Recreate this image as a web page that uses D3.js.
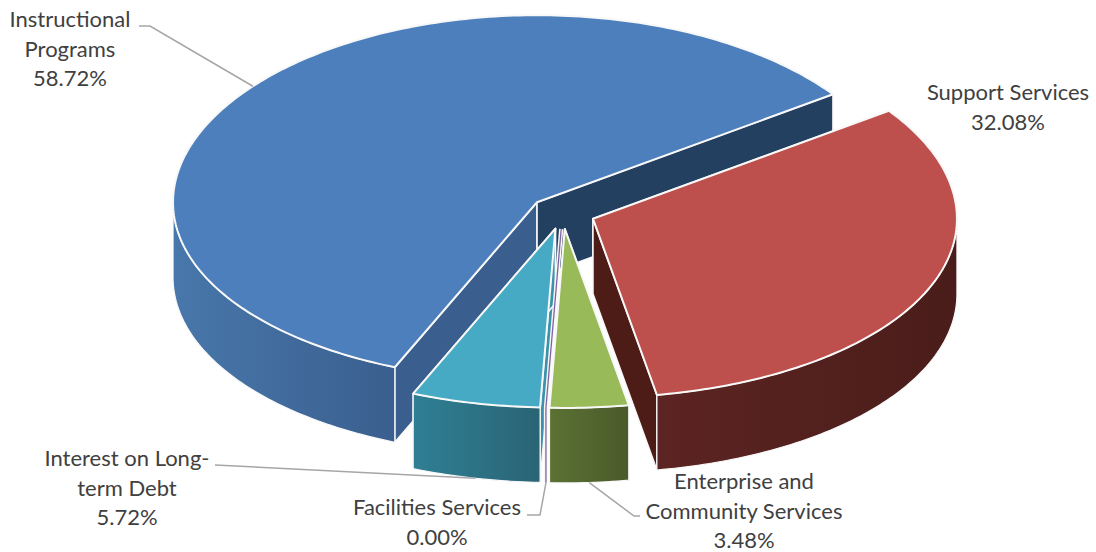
<!DOCTYPE html>
<html>
<head>
<meta charset="utf-8">
<title>Expenditures by function</title>
<script src="https://cdnjs.cloudflare.com/ajax/libs/d3/7.8.5/d3.min.js"></script>
<style>
  html, body { margin: 0; padding: 0; background: #fff; }
  svg { display: block; }
  text { font-family: Lato, "Open Sans", sans-serif; font-size: 22px; fill: #404040; }
</style>
</head>
<body>
<svg id="chart" width="1096" height="552"></svg>
<script>
// Slice data, in drawing order clockwise around the pie
const categories = ["Instructional Programs", "Support Services", "Enterprise and Community Services", "Facilities Services", "Interest on Long-term Debt"];
const shares = [58.72, 32.08, 3.48, 0.00, 5.72];

// Colours per slice
const topColors = ["#4c7fbc", "#bd4f4c", "#98ba58", "#8064a2", "#46aac5"];
const rimFrom = ["#4877ab", "#5c2422", "#5b7233", "#6a5488", "#2f7f94"];
const rimTo = ["#3a5f8e", "#4a1d1a", "#4a5a2b", "#5a4674", "#2a6475"];
const startFace = ["#3a5f8e", "#4d1c17", "#4a5a2b", "#8064a2", "#3a93aa"];
const endFace = ["#244061", "#4d1c17", "#4a5a2b", "#8064a2", "#3a93aa"];

// Label text lines and their placement
const labelLines = [
  ["Instructional", "Programs", "58.72%"],
  ["Support Services", "32.08%"],
  ["Enterprise and", "Community Services", "3.48%"],
  ["Facilities Services", "0.00%"],
  ["Interest on Long-", "term Debt", "5.72%"]
];
const labelCentres = [[70, 27], [1008, 100], [744, 489], [437, 515], [127, 466]];
const leaderElbows = [
  [[139, 26], [150, 26]],
  [],
  [[640, 516], [634, 516]],
  [[527, 515], [540, 515]],
  [[215, 465]]
];
const lineStep = 29.5;

// Pie projection settings
const centreX = 562.6, centreY = 212.5;
const radiusX = 364, radiusY = 183, backBulge = 4;
const depth = 75, explode = 0.09;
const firstAngle = 203 * Math.PI / 180;

const svg = d3.select("#chart");
const defs = svg.append("defs");

const slices = d3.pie().sort(null)
  .startAngle(firstAngle)
  .endAngle(firstAngle + 2 * Math.PI)(shares);

const xScale = d3.scaleLinear().domain([-1, 1]).range([-radiusX, radiusX]);
const yScale = d3.scaleLinear().domain([-1, 1]).range([-radiusY, radiusY]);

// Apex of a slice, pushed out along its middle angle
function apexOf(d) {
  const mid = (d.startAngle + d.endAngle) / 2;
  return [centreX + xScale(Math.sin(mid)) * explode,
          centreY + yScale(-Math.cos(mid)) * explode];
}
// Point on the rim of a slice, seen from slightly above
function rimPoint(apex, angle, drop = 0) {
  const c = Math.cos(angle);
  return [apex[0] + xScale(Math.sin(angle)),
          apex[1] + yScale(-c) - backBulge * c * c + drop];
}
function arcPoints(apex, from, to, drop = 0) {
  const n = Math.max(2, Math.ceil(Math.abs(to - from) * 60));
  return d3.range(n + 1).map(i => rimPoint(apex, from + (to - from) * i / n, drop));
}
const path = d3.line();
const closed = pts => path(pts) + "Z";

// Front-facing part of a slice's outer wall
function frontSpan(d) {
  const deg = Math.PI / 180;
  for (const [lo, hi] of [[90 * deg, 270 * deg], [450 * deg, 630 * deg]]) {
    const a = Math.max(lo, d.startAngle), b = Math.min(hi, d.endAngle);
    if (b > a) return [a, b];
  }
  return null;
}

const stroke = "#f8f8f8";
const order = [0, 1, 4, 3, 2];

order.forEach(i => {
  const d = slices[i];
  const apex = apexOf(d);
  const g = svg.append("g").attr("class", "slice");

  if (d.endAngle === d.startAngle) {
    // A zero share is only a hairline seam down the pie
    const seam = [apex, rimPoint(apex, d.startAngle), rimPoint(apex, d.startAngle, depth)];
    g.append("path").attr("d", path(seam)).attr("fill", "none")
      .attr("stroke", stroke).attr("stroke-width", 4.2);
    g.append("path").attr("d", path(seam)).attr("fill", "none")
      .attr("stroke", topColors[i]).attr("stroke-width", 1.3);
    return;
  }

  // Cut faces from the apex out to the rim
  [[d.startAngle, startFace[i]], [d.endAngle, endFace[i]]].forEach(([angle, color]) => {
    const rim = rimPoint(apex, angle);
    g.append("path")
      .attr("d", closed([apex, rim, [rim[0], rim[1] + depth], [apex[0], apex[1] + depth]]))
      .attr("fill", color).attr("stroke", stroke).attr("stroke-width", 1.6)
      .attr("stroke-linejoin", "round");
  });

  // Curved outer wall, shaded from left to right
  const span = frontSpan(d);
  if (span) {
    const upper = arcPoints(apex, span[0], span[1]);
    const lower = arcPoints(apex, span[1], span[0], depth);
    const xs = d3.extent(upper, p => p[0]);
    const grad = defs.append("linearGradient").attr("id", "rim" + i)
      .attr("gradientUnits", "userSpaceOnUse")
      .attr("x1", xs[0]).attr("x2", xs[1]).attr("y1", 0).attr("y2", 0);
    grad.append("stop").attr("offset", 0).attr("stop-color", rimFrom[i]);
    grad.append("stop").attr("offset", 1).attr("stop-color", rimTo[i]);
    g.append("path").attr("d", closed(upper.concat(lower)))
      .attr("fill", `url(#rim${i})`).attr("stroke", stroke).attr("stroke-width", 1.2)
      .attr("stroke-linejoin", "round");
  }

  // Top surface
  g.append("path")
    .attr("d", closed([apex].concat(arcPoints(apex, d.startAngle, d.endAngle))))
    .attr("fill", topColors[i]).attr("stroke", stroke).attr("stroke-width", 2)
    .attr("stroke-linejoin", "round");
});

// Leader lines run from the label elbow to the slice they name
const leaderTarget = i => {
  const d = slices[i], mid = (d.startAngle + d.endAngle) / 2, apex = apexOf(d);
  return i === 0 ? rimPoint(apex, mid) : rimPoint(apex, mid, depth);
};
leaderElbows.forEach((elbow, i) => {
  if (!elbow.length) return;
  svg.append("path").attr("d", path(elbow.concat([leaderTarget(i)])))
    .attr("fill", "none").attr("stroke", "#a6a6a6").attr("stroke-width", 1.5);
});

// Category and share labels
labelLines.forEach((lines, i) => {
  const t = svg.append("text").attr("text-anchor", "middle");
  lines.forEach((line, k) => {
    t.append("tspan").attr("x", labelCentres[i][0])
      .attr("y", labelCentres[i][1] + k * lineStep).text(line);
  });
});
</script>
</body>
</html>
